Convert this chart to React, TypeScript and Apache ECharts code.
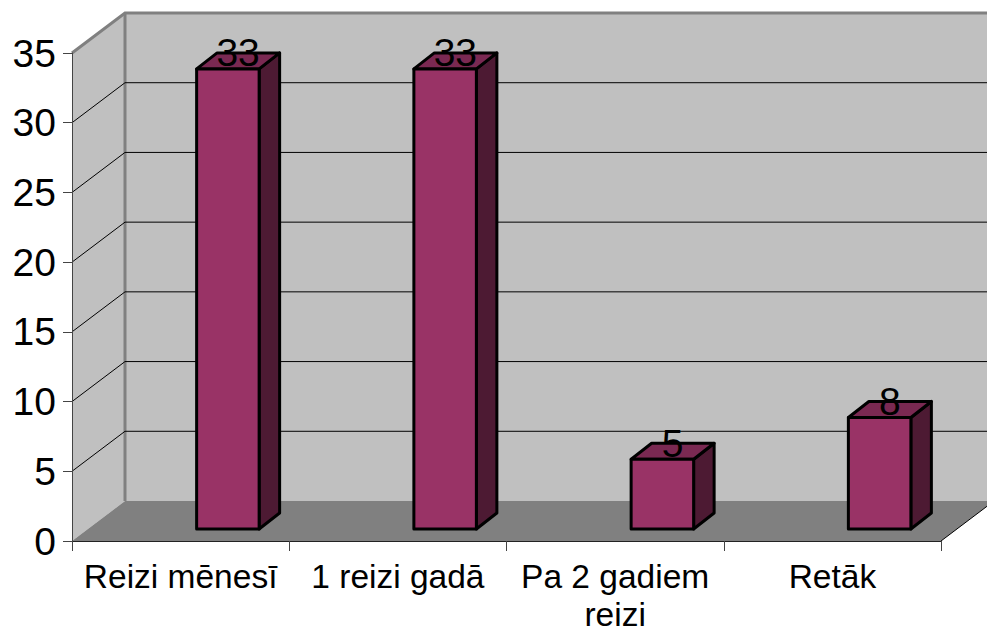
import React, { useEffect, useRef } from "react";
import * as echarts from "echarts";

const categories = ["Reizi mēnesī", "1 reizi gadā", "Pa 2 gadiem\nreizi", "Retāk"];
const values = [33, 33, 5, 8];
const gridValues = [5, 10, 15, 20, 25, 30];
const yMax = 35;
const yStep = 5;

const FONT = "'Liberation Sans', Arial, sans-serif";
const DEPTH_X = 53;
const DEPTH_Y = -40;
const BAR_SHIFT_X = 16;
const BAR_SHIFT_Y = -12;
const BAR_W = 62.5;
const BAR_DX = 20.5;
const BAR_DY = -16;

export default function App() {
  const ref = useRef<HTMLDivElement>(null);
  useEffect(() => {
    const chart = echarts.init(ref.current!, undefined, { renderer: "svg" });

    const renderWalls = (_p: any, api: any) => {
      const x0 = api.coord([0, 0])[0] - api.size([1, 0])[0] / 2;
      const x1 = x0 + api.size([1, 0])[0] * categories.length;
      const yb = api.coord([0, 0])[1];
      const yt = api.coord([0, yMax])[1];
      const poly = (points: number[][], fill: string) => ({
        type: "polygon",
        shape: { points },
        style: { fill, stroke: "none" },
      });
      const gray = { stroke: "#808080", lineWidth: 3, fill: "none" };
      return {
        type: "group",
        children: [
          poly([[x0, yb], [x0, yt], [x0 + DEPTH_X, yt + DEPTH_Y], [x0 + DEPTH_X, yb + DEPTH_Y]], "#c0c0c0"),
          poly([[x0 + DEPTH_X, yt + DEPTH_Y], [x1 + DEPTH_X, yt + DEPTH_Y], [x1 + DEPTH_X, yb + DEPTH_Y], [x0 + DEPTH_X, yb + DEPTH_Y]], "#c0c0c0"),
          poly([[x0, yb], [x1, yb], [x1 + DEPTH_X, yb + DEPTH_Y], [x0 + DEPTH_X, yb + DEPTH_Y]], "#808080"),
          {
            type: "polyline",
            shape: { points: [[x0, yt], [x0 + DEPTH_X, yt + DEPTH_Y], [x1 + DEPTH_X, yt + DEPTH_Y]] },
            style: gray,
          },
          {
            type: "line",
            shape: { x1: x0 + DEPTH_X, y1: yt + DEPTH_Y, x2: x0 + DEPTH_X, y2: yb + DEPTH_Y },
            style: gray,
          },
          {
            type: "line",
            shape: { x1, y1: yb, x2: x1 + DEPTH_X, y2: yb + DEPTH_Y },
            style: { stroke: "#000", lineWidth: 1 },
          },
        ],
      };
    };

    const renderGrid = (_p: any, api: any) => {
      const p = api.coord([0, api.value(1)]);
      const bw = api.size([1, 0])[0];
      const x0 = p[0] - bw / 2;
      const x1 = x0 + bw * categories.length;
      return {
        type: "polyline",
        shape: { points: [[x0, p[1]], [x0 + DEPTH_X, p[1] + DEPTH_Y], [x1 + DEPTH_X, p[1] + DEPTH_Y]] },
        style: { stroke: "#000", lineWidth: 1, fill: "none" },
      };
    };

    const renderBar = (_p: any, api: any) => {
      const i = api.value(0);
      const v = api.value(1);
      const base = api.coord([i, 0]);
      const top = api.coord([i, v]);
      const l = base[0] + BAR_SHIFT_X;
      const r = l + BAR_W;
      const b = base[1] + BAR_SHIFT_Y;
      const t = top[1] + BAR_SHIFT_Y;
      const edge = { stroke: "#000", lineWidth: 3, lineJoin: "round" };
      return {
        type: "group",
        children: [
          {
            type: "polygon",
            shape: { points: [[r, t], [r + BAR_DX, t + BAR_DY], [r + BAR_DX, b + BAR_DY], [r, b]] },
            style: { fill: "#4d1a33", ...edge },
          },
          {
            type: "polygon",
            shape: { points: [[l, t], [l + BAR_DX, t + BAR_DY], [r + BAR_DX, t + BAR_DY], [r, t]] },
            style: { fill: "#7a2952", ...edge },
          },
          {
            type: "polygon",
            shape: { points: [[l, t], [r, t], [r, b], [l, b]] },
            style: { fill: "#993366", ...edge },
          },
          {
            type: "text",
            style: {
              text: String(v),
              x: l + 41.5,
              y: t - 16,
              align: "center",
              verticalAlign: "middle",
              fill: "#000",
              font: `39px ${FONT}`,
            },
          },
        ],
      };
    };

    chart.setOption({
      animation: false,
      backgroundColor: "#fff",
      grid: { left: 72, top: 53, width: 869, height: 488, containLabel: false, outerBoundsMode: "none" },
      xAxis: {
        type: "category",
        data: categories,
        z: 5,
        axisLine: { lineStyle: { color: "#222", width: 1 } },
        axisTick: { show: true, length: 10, lineStyle: { color: "#444" } },
        axisLabel: {
          fontFamily: FONT,
          fontSize: 33.5,
          color: "#000",
          margin: 16,
          lineHeight: 38,
          interval: 0,
        },
      },
      yAxis: {
        type: "value",
        min: 0,
        max: yMax,
        interval: yStep,
        z: 5,
        splitLine: { show: false },
        axisLine: { show: true, lineStyle: { color: "#444", width: 1 } },
        axisTick: { show: true, length: 9, lineStyle: { color: "#444" } },
        axisLabel: { fontFamily: FONT, fontSize: 39, color: "#000", margin: 16 },
      },
      series: [
        { type: "custom", z: 1, clip: false, silent: true, renderItem: renderWalls, data: [[0, 0]] },
        { type: "custom", z: 2, clip: false, silent: true, renderItem: renderGrid, data: gridValues.map((v) => [0, v]) },
        { type: "custom", z: 6, clip: false, silent: true, renderItem: renderBar, data: values.map((v, i) => [i, v]) },
      ],
    });
    return () => chart.dispose();
  }, []);
  return <div ref={ref} style={{ position: "fixed", left: 0, top: 0, width: 987, height: 634 }} />;
}
